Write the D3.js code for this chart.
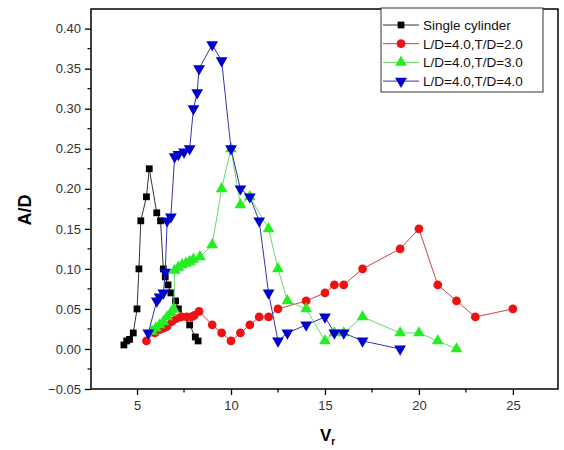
<!DOCTYPE html>
<html>
<head>
<meta charset="utf-8">
<script src="https://cdn.jsdelivr.net/npm/d3@7"></script>
<style>
    body { margin: 0; background: #fff; }
    svg { font-family: "Liberation Sans", Arial, sans-serif; }
</style>
</head>
<body>
<div id="chart"></div>
<script>

// Single cylinder
var singleX = [4.3, 4.45, 4.6, 4.8, 5.0, 5.1, 5.2, 5.5, 5.65, 6.05, 6.25, 6.4, 6.5, 6.65, 6.8, 7.05, 7.2, 7.8, 8.1, 8.25];
var singleY = [0.005, 0.01, 0.012, 0.02, 0.05, 0.10, 0.16, 0.19, 0.225, 0.17, 0.16, 0.10, 0.09, 0.08, 0.07, 0.06, 0.05, 0.03, 0.015, 0.01];

// L/D=4.0, T/D=2.0
var t2X = [5.5, 5.95, 6.2, 6.4, 6.6, 6.85, 7.1, 7.35, 7.65, 7.9, 8.05, 8.3, 9.0, 9.5, 10.0, 10.5, 11.0, 11.5, 12.0, 12.5, 14.0, 15.0, 15.5, 16.0, 17.0, 19.0, 20.0, 21.0, 22.0, 23.0, 25.0];
var t2Y = [0.01, 0.02, 0.024, 0.026, 0.028, 0.034, 0.038, 0.04, 0.04, 0.04, 0.042, 0.047, 0.03, 0.02, 0.01, 0.02, 0.03, 0.04, 0.04, 0.05, 0.06, 0.07, 0.08, 0.08, 0.10, 0.125, 0.15, 0.08, 0.06, 0.04, 0.05];

// L/D=4.0, T/D=3.0
var t3X = [5.8, 6.0, 6.2, 6.4, 6.6, 6.8, 6.95, 7.0, 7.2, 7.4, 7.6, 7.8, 8.0, 8.35, 9.0, 9.5, 10.0, 10.5, 11.0, 12.0, 12.5, 13.0, 14.0, 15.0, 15.5, 16.0, 17.0, 19.0, 20.0, 21.0, 22.0];
var t3Y = [0.022, 0.026, 0.03, 0.034, 0.04, 0.045, 0.05, 0.098, 0.102, 0.105, 0.107, 0.109, 0.112, 0.115, 0.13, 0.20, 0.25, 0.18, 0.19, 0.15, 0.10, 0.06, 0.05, 0.01, 0.02, 0.02, 0.04, 0.02, 0.02, 0.01, 0.0];

// L/D=4.0, T/D=4.0
var t4X = [5.6, 6.05, 6.2, 6.4, 6.5, 6.6, 6.8, 7.0, 7.2, 7.5, 7.8, 8.0, 8.2, 8.3, 9.0, 9.5, 10.0, 10.5, 11.0, 11.5, 12.0, 12.5, 13.0, 14.0, 15.0, 15.5, 16.0, 17.0, 19.0];
var t4Y = [0.02, 0.06, 0.065, 0.07, 0.096, 0.16, 0.165, 0.24, 0.243, 0.246, 0.25, 0.30, 0.32, 0.35, 0.38, 0.36, 0.25, 0.20, 0.19, 0.16, 0.07, 0.01, 0.02, 0.03, 0.04, 0.02, 0.02, 0.01, 0.0];

var seriesNames = ["Single cylinder", "L/D=4.0,T/D=2.0", "L/D=4.0,T/D=3.0", "L/D=4.0,T/D=4.0"];

var xTicks = [5, 10, 15, 20, 25];
var yTicks = [-0.05, 0.00, 0.05, 0.10, 0.15, 0.20, 0.25, 0.30, 0.35, 0.40];

var series = [
    { name: seriesNames[0], x: singleX, y: singleY, symbol: d3.symbolSquare, size: 46, fill: "#000000", line: "#333333", rot: 0 },
    { name: seriesNames[1], x: t2X, y: t2Y, symbol: d3.symbolCircle, size: 60, fill: "#ee1111", line: "#cc4444", rot: 0 },
    { name: seriesNames[2], x: t3X, y: t3Y, symbol: d3.symbolTriangle, size: 60, fill: "#22ee22", line: "#66dd66", rot: 0 },
    { name: seriesNames[3], x: t4X, y: t4Y, symbol: d3.symbolTriangle, size: 60, fill: "#0000cc", line: "#3333aa", rot: 180 }
];

var margin = { top: 9, right: 6, bottom: 61, left: 91 };
var width = 564 - margin.left - margin.right,
    height = 450 - margin.top - margin.bottom;

var svg = d3.select("#chart").append("svg")
    .attr("width", 564)
    .attr("height", 450);

var g = svg.append("g")
    .attr("transform", "translate(" + margin.left + "," + margin.top + ")");

var x = d3.scaleLinear().domain([2.55, 27.4]).range([0, width]);
var y = d3.scaleLinear().domain([-0.05, 0.4245]).range([height, 0]);

// minor ticks
var xMinor = [7.5, 12.5, 17.5, 22.5];
var yMinor = d3.range(-0.025, 0.42, 0.05);

g.selectAll("line.xminor").data(xMinor).enter().append("line")
    .attr("x1", function(d) { return x(d); }).attr("x2", function(d) { return x(d); })
    .attr("y1", height).attr("y2", height + 3.5)
    .attr("stroke", "#000").attr("stroke-width", 1.2);

g.selectAll("line.yminor").data(yMinor).enter().append("line")
    .attr("x1", -3.5).attr("x2", 0)
    .attr("y1", function(d) { return y(d); }).attr("y2", function(d) { return y(d); })
    .attr("stroke", "#000").attr("stroke-width", 1.2);

var xAxis = d3.axisBottom(x).tickValues(xTicks).tickSize(6).tickPadding(6).tickFormat(d3.format("d"));
var yAxis = d3.axisLeft(y).tickValues(yTicks).tickSize(6).tickPadding(4).tickFormat(d3.format(".2f"));

var gx = g.append("g")
    .attr("transform", "translate(0," + height + ")")
    .call(xAxis);
var gy = g.append("g").call(yAxis);

[gx, gy].forEach(function(a) {
    a.select(".domain").remove();
    a.selectAll(".tick line").attr("stroke", "#000").attr("stroke-width", 1.3);
    a.selectAll(".tick text").attr("font-size", 13).attr("fill", "#333")
        .attr("font-family", "'Liberation Sans', Arial, sans-serif");
});

// frame
g.append("rect")
    .attr("x", 0).attr("y", 0)
    .attr("width", width).attr("height", height)
    .attr("fill", "none").attr("stroke", "#000").attr("stroke-width", 1.5);

// series
var line = d3.line()
    .x(function(d) { return x(d[0]); })
    .y(function(d) { return y(d[1]); });

series.forEach(function(s) {
    var pts = s.x.map(function(v, i) { return [v, s.y[i]]; });

    g.append("path")
        .datum(pts)
        .attr("fill", "none")
        .attr("stroke", s.line)
        .attr("stroke-width", 1)
        .attr("d", line);

    g.selectAll(null).data(pts).enter().append("path")
        .attr("d", d3.symbol().type(s.symbol).size(s.size))
        .attr("transform", function(d) {
            return "translate(" + x(d[0]) + "," + y(d[1]) + ") rotate(" + s.rot + ")";
        })
        .attr("fill", s.fill);
});

// legend
var legend = svg.append("g").attr("transform", "translate(381,8)");
legend.append("rect")
    .attr("x", 0).attr("y", 0)
    .attr("width", 162).attr("height", 84)
    .attr("fill", "#fff").attr("stroke", "#333").attr("stroke-width", 1);

series.forEach(function(s, i) {
    var ly = 17 + i * 18.7;
    legend.append("line")
        .attr("x1", 2).attr("x2", 38)
        .attr("y1", ly).attr("y2", ly)
        .attr("stroke", s.line).attr("stroke-width", 1);
    legend.append("path")
        .attr("d", d3.symbol().type(s.symbol).size(s.size))
        .attr("transform", "translate(20," + ly + ") rotate(" + s.rot + ")")
        .attr("fill", s.fill);
    legend.append("text")
        .attr("x", 42).attr("y", ly + 5)
        .attr("font-size", 13.5)
        .attr("fill", "#111")
        .text(s.name);
});

// axis titles
svg.append("text")
    .attr("transform", "translate(31,210) rotate(-90)")
    .attr("text-anchor", "middle")
    .attr("font-size", 18)
    .attr("font-weight", "bold")
    .text("A/D");

var vt = svg.append("text")
    .attr("x", 320).attr("y", 441)
    .attr("font-size", 17)
    .attr("font-weight", "bold");
vt.append("tspan").text("V");
vt.append("tspan").attr("font-size", 10).attr("dy", 4).text("r");

</script>
</body>
</html>
